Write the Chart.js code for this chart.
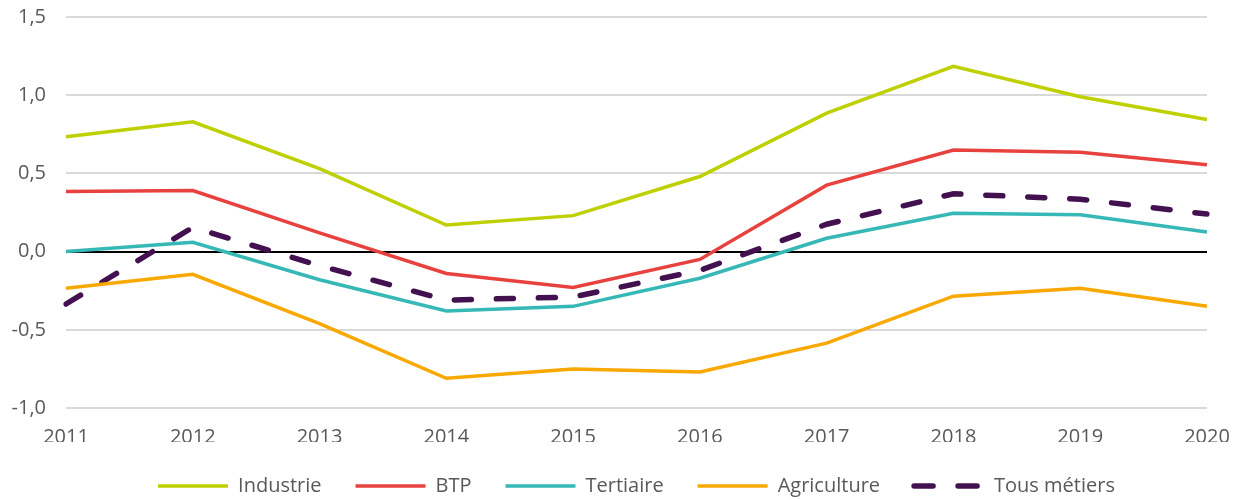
<!DOCTYPE html>
<html>
<head>
<meta charset="utf-8">
<script src="https://cdn.jsdelivr.net/npm/chart.js@4"></script>
<style>
    html, body { margin: 0; padding: 0; background: #fff; }
    #wrap { width: 1248px; height: 500px; position: relative; }
</style>
</head>
<body>
<div id="wrap"><canvas id="lineChart"></canvas></div>
<script>
// Data
const years = ['2011', '2012', '2013', '2014', '2015', '2016', '2017', '2018', '2019', '2020'];
const industrie   = [0.735, 0.83, 0.53, 0.17, 0.23, 0.48, 0.885, 1.185, 0.99, 0.845];
const btp         = [0.385, 0.39, 0.12, -0.14, -0.23, -0.05, 0.425, 0.65, 0.635, 0.555];
const tertiaire   = [0.0, 0.06, -0.18, -0.38, -0.35, -0.17, 0.085, 0.245, 0.235, 0.125];
const agriculture = [-0.235, -0.145, -0.46, -0.81, -0.75, -0.77, -0.585, -0.285, -0.235, -0.35];
const tousMetiers = [-0.335, 0.155, -0.09, -0.31, -0.29, -0.12, 0.175, 0.37, 0.335, 0.24];
const yTicks = [-1.0, -0.5, 0.0, 0.5, 1.0, 1.5];

const textColor = '#595959';
const fontFamily = "'Open Sans', 'Noto Sans', sans-serif";

function lineSet(label, data, color, extra) {
    return Object.assign({
        label: label,
        data: data,
        borderColor: color,
        backgroundColor: color,
        borderWidth: 3.5,
        pointRadius: 0,
        tension: 0,
        fill: false
    }, extra || {});
}

function initChart() {
    const ctx = document.getElementById('lineChart').getContext('2d');

    new Chart(ctx, {
        type: 'line',
        data: {
            labels: years,
            datasets: [
                lineSet('Industrie', industrie, '#BFD000'),
                lineSet('BTP', btp, '#E8423F'),
                lineSet('Tertiaire', tertiaire, '#36B8B6'),
                lineSet('Agriculture', agriculture, '#F9A800'),
                lineSet('Tous métiers', tousMetiers, '#43114F', {
                    borderWidth: 5.5,
                    borderDash: [17, 25],
                    borderCapStyle: 'round'
                })
            ]
        },
        options: {
            responsive: true,
            maintainAspectRatio: false,
            animation: false,
            layout: {
                padding: { top: 17, right: 41, bottom: 0, left: 0 }
            },
            plugins: {
                legend: {
                    position: 'bottom',
                    fullSize: false,
                    maxHeight: 58,
                    labels: {
                        usePointStyle: true,
                        pointStyle: 'line',
                        pointStyleWidth: 70,
                        padding: 34,
                        color: textColor,
                        font: { family: fontFamily, size: 20 },
                        // point-style items lose the dash, so copy it back from the dataset
                        generateLabels: function(chart) {
                            const items = Chart.defaults.plugins.legend.labels.generateLabels(chart);
                            items.forEach(item => {
                                const ds = chart.data.datasets[item.datasetIndex];
                                item.lineWidth = ds.borderWidth;
                                item.lineDash = ds.borderDash ? [19, 25] : [];
                                item.lineCap = ds.borderDash ? 'round' : 'butt';
                                item.strokeStyle = ds.borderColor;
                            });
                            return items;
                        }
                    }
                },
                tooltip: { enabled: false }
            },
            scales: {
                x: {
                    afterFit: function(scale) { scale.height = 34; },
                    grid: { display: false, drawTicks: false },
                    border: { display: false },
                    ticks: {
                        color: textColor,
                        padding: 17,
                        maxRotation: 0,
                        font: { family: fontFamily, size: 20 }
                    }
                },
                y: {
                    min: -1.0,
                    max: 1.5,
                    afterFit: function(scale) {
                        scale.width = 66;
                        scale.paddingTop = 0;
                    },
                    afterBuildTicks: function(scale) {
                        scale.ticks = yTicks.map(v => ({ value: v }));
                    },
                    border: { display: false },
                    grid: {
                        drawTicks: false,
                        lineWidth: 2,
                        color: c => (c.tick && c.tick.value === 0) ? '#000000' : '#d9d9d9'
                    },
                    ticks: {
                        color: textColor,
                        padding: 20,
                        font: { family: fontFamily, size: 20 },
                        callback: v => v.toFixed(1).replace('.', ',')
                    }
                }
            }
        }
    });
}

document.addEventListener('DOMContentLoaded', initChart);
</script>
</body>
</html>
